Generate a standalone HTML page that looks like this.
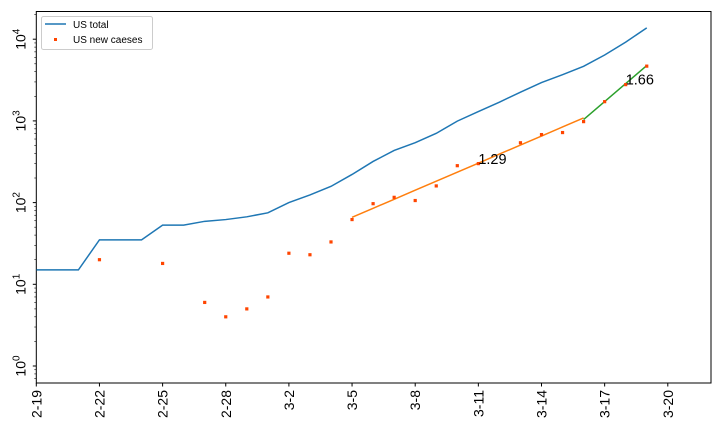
<!DOCTYPE html>
<html><head><meta charset="utf-8"><style>
body{margin:0;background:#fff;}
svg{display:block;font-family:"Liberation Sans","DejaVu Sans",sans-serif;}
</style></head><body>
<svg id="chart" width="720" height="432"></svg>
<script>
const dayLabels=["2-19","2-22","2-25","2-28","3-2","3-5","3-8","3-11","3-14","3-17","3-20"];
const tickDays=[0,3,6,9,12,15,18,21,24,27,30];
const totalDays=[0,1,2,3,4,5,6,7,8,9,10,11,12,13,14,15,16,17,18,19,20,21,22,23,24,25,26,27,28,29];
const totalValues=[15,15,15,35,35,35,53,53,59,62,67,75,100,124,158,221,319,435,541,704,994,1301,1697,2247,2943,3680,4663,6411,9197,13779];
const newDays=[3,6,8,9,10,11,12,13,14,15,16,17,18,19,20,21,23,24,25,26,27,28,29];
const newValues=[20,18,6,4,5,7,24,23,33,62,97,116,106,160,283,300,540,680,720,980,1720,2780,4680];
const fitStartDays=[15,26];
const fitEndDays=[26,29];
const fitStartValues=[66,1040];
const fitRates=[1.29,1.66];
const fitColors=["#ff7f0e","#2ca02c"];
const yTickExps=[0,1,2,3,4];

const L=36.3,R=711,T=11.5,B=383;
const X=d=>L+d*21.05;
const Y=v=>366-Math.log10(v)*81.7;
const svg=document.getElementById('chart');
const NS="http://www.w3.org/2000/svg";
function mk(tag,attrs,parent){const e=document.createElementNS(NS,tag);for(const k in attrs)e.setAttribute(k,attrs[k]);(parent||svg).appendChild(e);return e;}

const frame=mk('rect',{x:L,y:T,width:R-L,height:B-T,fill:'none',stroke:'#000','stroke-width':1});



yTickExps.forEach(e=>{
  const y=Y(Math.pow(10,e));
  const t=mk('line',{x1:L-3.5,x2:L,y1:y,y2:y,stroke:'#000'});
  
  
  const lbl=mk('text',{transform:`translate(${L-11},${y}) rotate(-90)`,'text-anchor':'middle','font-size':14});
  
  
  lbl.innerHTML=`10<tspan dy="-6" font-size="10">${e}</tspan>`;
  if(e<4){for(let m=2;m<10;m++){const ym=Y(m*Math.pow(10,e));
    const mt=mk('line',{x1:L-2,x2:L,y1:ym,y2:ym,stroke:'#000','stroke-width':0.6});
    
    }}
});
[0.6,0.7,0.8,0.9,20000].forEach(v=>{const ym=Y(v);if(ym>T&&ym<B){const mt=mk('line',{x1:L-2,x2:L,y1:ym,y2:ym,stroke:'#000','stroke-width':0.6});
  
  }});

tickDays.forEach((d,i)=>{
  const x=X(d);
  const t=mk('line',{x1:x,x2:x,y1:B,y2:B+3.5,stroke:'#000'});
  
  
  const lbl=mk('text',{transform:`translate(${x+5},${B+7}) rotate(-90)`,'text-anchor':'end','font-size':14});
  
  
  lbl.textContent=dayLabels[i];
});

const defs=mk('defs',{});
const cp=mk('clipPath',{id:'clip'},defs);
mk('rect',{x:L,y:T,width:R-L,height:B-T},cp);

const tl=mk('polyline',{points:totalDays.map((d,i)=>X(d)+','+Y(totalValues[i])).join(' '),fill:'none',stroke:'#1f77b4','stroke-width':1.5,'clip-path':'url(#clip)'});



fitStartDays.forEach((s,i)=>{
  const e=fitEndDays[i];const pts=[];
  for(let d=s;d<=e;d++)pts.push(X(d)+','+Y(fitStartValues[i]*Math.pow(fitRates[i],d-s)));
  const fl=mk('polyline',{points:pts.join(' '),fill:'none',stroke:fitColors[i],'stroke-width':1.5});
  
  
});

newDays.forEach((d,i)=>{
  const p=mk('rect',{x:X(d)-1.6,y:Y(newValues[i])-1.6,width:3.2,height:3.2,fill:'#ff4500'});
  
  
});

fitStartDays.forEach((s,i)=>{
  const d=i===0?21:28;
  const v=fitStartValues[i]*Math.pow(fitRates[i],d-s);
  const lbl=mk('text',{x:X(d),y:Y(v)+1,'font-size':14.5,fill:'#000'});
  
  
  lbl.textContent=fitRates[i].toFixed(2);
});

const lg=mk('g',{});


mk('rect',{x:41.5,y:16.5,width:111,height:33,rx:2,fill:'#fff',stroke:'#ccc'},lg);
mk('line',{x1:45,x2:66,y1:24,y2:24,stroke:'#1f77b4','stroke-width':1.5},lg);
const t1=mk('text',{x:73,y:28,'font-size':10},lg);t1.textContent='US total';


mk('rect',{x:54,y:38,width:3,height:3,fill:'#ff4500'},lg);
const t2=mk('text',{x:73,y:43,'font-size':10},lg);t2.textContent='US new caeses';


</script>
</body></html>
